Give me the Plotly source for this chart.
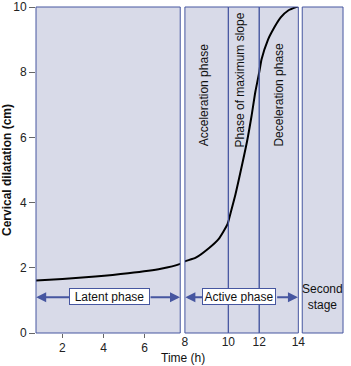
import plotly.graph_objects as go

# ---- data ----
time_h = [0.71, 2.0, 3.6, 5.2, 6.8, 7.74, 8.0, 8.5, 9.1, 9.55, 9.95, 10.0, 10.46, 10.89,
          11.2, 11.5, 11.75, 12.0, 12.12, 12.45, 12.62, 13.1, 13.5, 13.9, 14.0]
dilatation_cm = [1.61, 1.66, 1.73, 1.83, 1.97, 2.12, 2.2, 2.31, 2.6, 2.88, 3.32, 3.42, 4.25, 5.16,
                 5.85, 6.65, 7.4, 8.0, 8.4, 9.0, 9.21, 9.68, 9.9, 10.0, 10.02]
y_ticks = [0, 2, 4, 6, 8, 10]
phase_labels = ["Acceleration phase", "Phase of maximum slope", "Deceleration phase"]

FILL = "#d8dae8"
BLUE = "#4656a0"
FONT = "Liberation Sans"

fig = go.Figure()

axes = ["x", "x2", "x3", "x4", "x5"]
for ax in axes[:4]:
    fig.add_trace(go.Scatter(x=time_h, y=dilatation_cm, xaxis=ax, yaxis="y", mode="lines",
                             line=dict(color="black", width=2, shape="spline", smoothing=0.6),
                             showlegend=False, hoverinfo="skip"))
fig.add_trace(go.Scatter(x=[None], y=[None], xaxis="x5", yaxis="y", showlegend=False))

W = 315.0
def dom(a, b):
    return [(a - 36) / W, (b - 36) / W]

common_x = dict(showgrid=False, zeroline=False, showline=False, anchor="y",
                ticklabeloverflow="allow",
                tickfont=dict(family=FONT, size=12, color="#222"))

layout = dict(
    width=351, height=366,
    margin=dict(l=36, r=0, t=4, b=33),
    paper_bgcolor="white", plot_bgcolor=FILL,
    showlegend=False,
    font=dict(family=FONT, size=12, color="#222"),
    yaxis=dict(range=[0, 10], tickvals=y_ticks, ticks="outside", ticklen=6, tickcolor="#666",
               showgrid=False, zeroline=False, showline=False, anchor="x",
               ticklabeloverflow="allow",
               tickfont=dict(family=FONT, size=12, color="#222"),
               title=dict(text="Cervical dilatation (cm)", standoff=4,
                          font=dict(family=FONT, size=12, color="#111", weight="bold"))),
    xaxis=dict(domain=dom(36, 183.5), range=[0.71, 7.74], tickvals=[2, 4, 6],
               ticks="outside", ticklen=4, tickcolor="#666", **common_x),
    xaxis2=dict(domain=dom(188.3, 232.7), range=[8, 10], tickvals=[8], ticks="", **common_x),
    xaxis3=dict(domain=dom(232.7, 264.3), range=[10, 12], tickvals=[10], ticks="", **common_x),
    xaxis4=dict(domain=dom(264.3, 304.3), range=[12, 14], tickvals=[12, 14], ticks="", **common_x),
    xaxis5=dict(domain=dom(308.3, 350), range=[0, 1], showticklabels=False, ticks="", **common_x),
)
fig.update_layout(**layout)

# panel borders
for ax in axes:
    fig.add_shape(type="rect", xref=f"{ax} domain", yref="y domain", x0=0, x1=1, y0=0, y1=1,
                  line=dict(color=BLUE, width=1), layer="above")

ann = []
# rotated phase labels
for lab, ax, xv, yv in zip(phase_labels, ["x2", "x3", "x4"], [8.89, 10.78, 12.99], [7.30, 7.76, 7.30]):
    ann.append(dict(text=lab, xref=ax, yref="y", x=xv, y=yv, textangle=-90, showarrow=False,
                    font=dict(family=FONT, size=12, color="#111"), xanchor="center", yanchor="middle"))

# arrows
arrow_style = dict(showarrow=True, arrowhead=2, arrowsize=1, arrowwidth=2, arrowcolor=BLUE, text="", standoff=0)
ann.append(dict(xref="x", yref="y", axref="x", ayref="y", x=0.72, y=1.1, ax=2.41, ay=1.1, **arrow_style))
ann.append(dict(xref="x", yref="y", axref="x", ayref="y", x=7.73, y=1.1, ax=6.22, ay=1.1, **arrow_style))
ann.append(dict(xref="x2", yref="y", axref="x2", ayref="y", x=8.02, y=1.1, ax=8.86, ay=1.1, **arrow_style))
ann.append(dict(xref="x4", yref="y", axref="x4", ayref="y", x=13.98, y=1.1, ax=12.84, ay=1.1, **arrow_style))

box_style = dict(showarrow=False, bgcolor="white", bordercolor=BLUE, borderwidth=1, borderpad=1,
                 font=dict(family=FONT, size=12, color="#111"), height=13)
ann.append(dict(text="Latent phase", xref="x", yref="y", x=4.31, y=1.12, width=77, **box_style))
ann.append(dict(text="Active phase", xref="x3", yref="y", x=10.72, y=1.12, width=70, **box_style))

ann.append(dict(text="Second<br>stage", xref="x5 domain", yref="y", x=0.5, y=1.09, showarrow=False,
                font=dict(family=FONT, size=12, color="#111")))

ann.append(dict(text="Time (h)", xref="paper", yref="paper", x=(186 - 36) / W, y=0, yanchor="top",
                yshift=-16, showarrow=False, font=dict(family=FONT, size=12, color="#111")))

fig.update_layout(annotations=ann)
fig.write_html("out.html")
